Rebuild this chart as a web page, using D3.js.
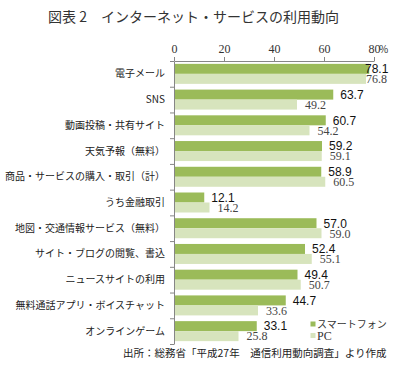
<!DOCTYPE html>
<html>
<head>
<meta charset="utf-8">
<style>
    body { margin: 0; background: #fff; }
    .jp { font-family: "Noto Sans CJK JP", sans-serif; }
    .axis path, .axis line { stroke: #868686; }
</style>
</head>
<body>
<script src="https://d3js.org/d3.v7.min.js"></script>
<script>
// data
var categories = ["電子メール", "SNS", "動画投稿・共有サイト", "天気予報（無料）",
    "商品・サービスの購入・取引（計）", "うち金融取引", "地図・交通情報サービス（無料）",
    "サイト・ブログの閲覧、書込", "ニュースサイトの利用", "無料通話アプリ・ボイスチャット", "オンラインゲーム"];
var smartphone = [78.1, 63.7, 60.7, 59.2, 58.9, 12.1, 57.0, 52.4, 49.4, 44.7, 33.1];
var pc = [76.8, 49.2, 54.2, 59.1, 60.5, 14.2, 59.0, 55.1, 50.7, 33.6, 25.8];
var xTicks = [0, 20, 40, 60, 80];
var seriesNames = ["スマートフォン", "PC"];

var W = 404, H = 369;
var plotL = 174, plotR = 374, plotT = 61, plotB = 344;
var dark = "#9bbb59", light = "#d7e4bd";

var svg = d3.select("body").append("svg")
    .attr("width", W)
    .attr("height", H);

// title
svg.append("text")
    .attr("class", "jp")
    .attr("x", 48)
    .attr("y", 22)
    .attr("font-size", 14)
    .attr("fill", "#333")
    .text("図表 2　インターネット・サービスの利用動向");

var x = d3.scaleLinear().domain([0, 80]).range([plotL, plotR]);
var y = d3.scaleBand().domain(categories).range([plotT, plotB]);
var bh = 10; // bar thickness
var off = (y.bandwidth() - 2 * bh) / 2;

// bars
var g = svg.append("g");
categories.forEach(function (c, i) {
    g.append("rect")
        .attr("x", x(0))
        .attr("y", y(c) + off)
        .attr("width", x(smartphone[i]) - x(0))
        .attr("height", bh)
        .attr("fill", dark);
    g.append("rect")
        .attr("x", x(0))
        .attr("y", y(c) + off + bh)
        .attr("width", x(pc[i]) - x(0))
        .attr("height", bh)
        .attr("fill", light);

    svg.append("text")
        .attr("x", Math.min(x(smartphone[i]) + 7, 365))
        .attr("y", y(c) + off + bh / 2)
        .attr("dy", "0.36em")
        .attr("font-family", "Liberation Sans, Arial")
        .attr("font-size", 12)
        .attr("fill", "#111")
        .text(smartphone[i].toFixed(1));
    svg.append("text")
        .attr("x", Math.min(x(pc[i]) + 8, 366))
        .attr("y", y(c) + off + bh * 1.5)
        .attr("dy", "0.36em")
        .attr("font-family", "Liberation Serif, Times New Roman")
        .attr("font-size", 12)
        .attr("fill", "#444")
        .text(pc[i].toFixed(1));
});

// top axis
var xa = svg.append("g")
    .attr("class", "axis")
    .attr("transform", "translate(0," + plotT + ")")
    .call(d3.axisTop(x).tickValues(xTicks).tickSize(4).tickSizeOuter(0));
xa.selectAll("text")
    .attr("font-family", "Liberation Serif, Times New Roman")
    .attr("font-size", 12)
    .attr("fill", "#333")
    .attr("y", -8);
svg.append("text")
    .attr("class", "jp")
    .attr("x", x(80) + 5)
    .attr("y", plotT - 8)
    .attr("font-size", 10)
    .attr("fill", "#333")
    .text("%");

// left axis with ticks on band edges
var yEdge = d3.scaleLinear().domain([0, categories.length]).range([plotT, plotB]);
svg.append("g")
    .attr("class", "axis")
    .attr("transform", "translate(" + plotL + ",0)")
    .call(d3.axisLeft(yEdge).tickValues(d3.range(categories.length + 1)).tickSize(4).tickSizeOuter(0).tickFormat(""));

// category labels
svg.selectAll(".cat")
    .data(categories)
    .enter()
    .append("text")
    .attr("class", "jp")
    .attr("x", 165)
    .attr("y", d => y(d) + y.bandwidth() / 2)
    .attr("dy", "0.35em")
    .attr("text-anchor", "end")
    .attr("font-size", 10)
    .attr("fill", "#222")
    .text(d => d);

// legend
[dark, light].forEach(function (col, i) {
    svg.append("rect")
        .attr("x", 310.5)
        .attr("y", 321.5 + i * 11.5)
        .attr("width", 5)
        .attr("height", 5)
        .attr("fill", col);
    svg.append("text")
        .attr("class", i === 0 ? "jp" : null)
        .attr("font-family", i === 0 ? null : "Liberation Serif, Times New Roman")
        .attr("x", 317)
        .attr("y", 324 + i * 11.5)
        .attr("dy", "0.36em")
        .attr("font-size", i === 0 ? 10 : 12)
        .attr("fill", "#333")
        .text(seriesNames[i]);
});

// source
svg.append("text")
    .attr("class", "jp")
    .attr("x", 123)
    .attr("y", 353)
    .attr("dy", "0.36em")
    .attr("font-size", 10.5)
    .attr("fill", "#222")
    .text("出所：総務省「平成27年　通信利用動向調査」より作成");
</script>
</body>
</html>
